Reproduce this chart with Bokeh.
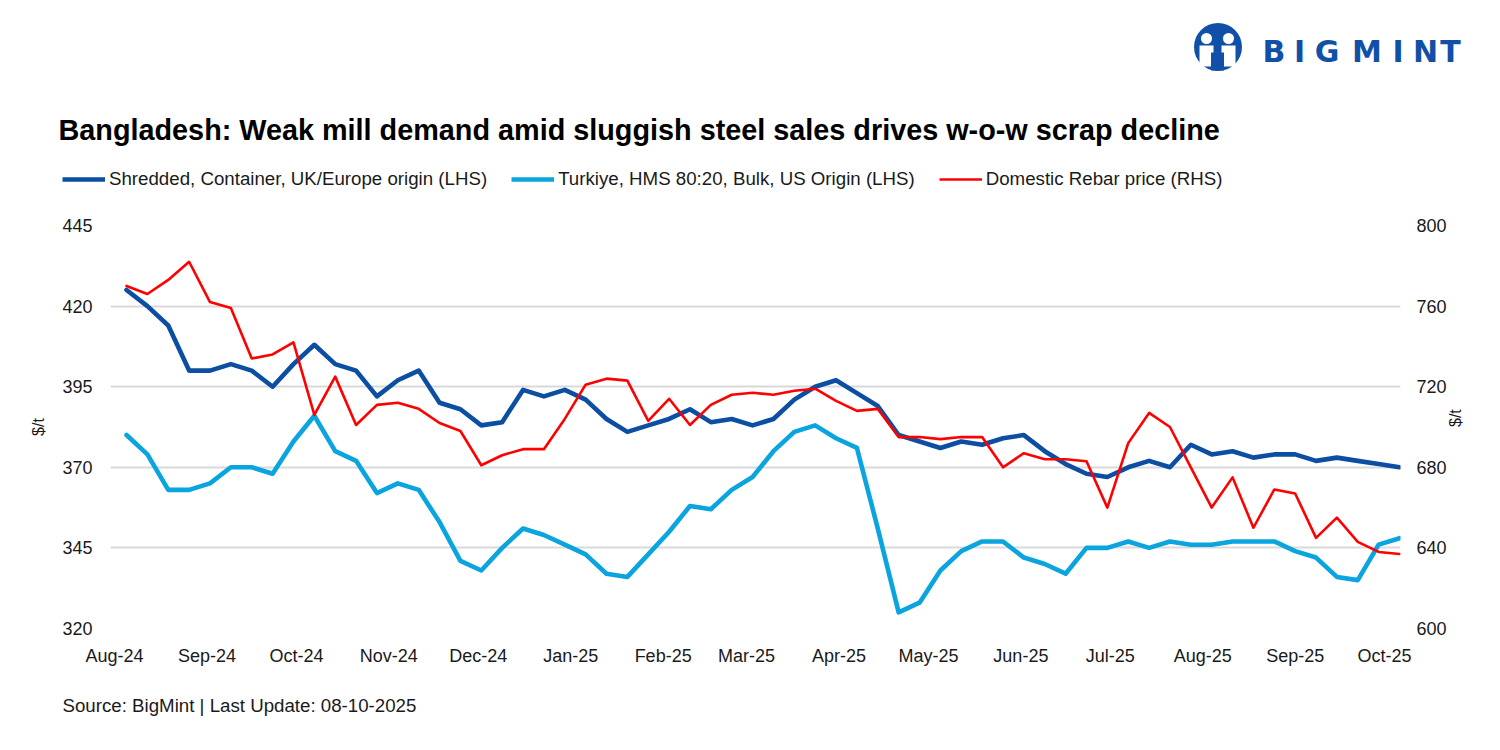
import math
import pandas as pd
from datetime import datetime
from bokeh.plotting import figure
from bokeh.models import (Range1d, LinearAxis, FixedTicker, MonthsTicker, DatetimeTickFormatter,
                          Legend, LegendItem, Label)
from bokeh.embed import file_html
from bokeh.resources import INLINE

# ---------------- data ----------------
first_week = "2024-08-05"
shredded = [425, 420, 414, 400, 400, 402, 400, 395, 402, 408, 402, 400, 392, 397, 400, 390,
            388, 383, 384, 394, 392, 394, 391, 385, 381, 383, 385, 388, 384, 385, 383, 385,
            391, 395, 397, 393, 389, 380, 378, 376, 378, 377, 379, 380, 375, 371, 368, 367,
            370, 372, 370, 377, 374, 375, 373, 374, 374, 372, 373, 372, 371, 370]
turkiye = [380, 374, 363, 363, 365, 370, 370, 368, 378, 386, 375, 372, 362, 365, 363, 353,
           341, 338, 345, 351, 349, 346, 343, 337, 336, 343, 350, 358, 357, 363, 367, 375,
           381, 383, 379, 376, 351, 325, 328, 338, 344, 347, 347, 342, 340, 337, 345, 345,
           347, 345, 347, 346, 346, 347, 347, 347, 344, 342, 336, 335, 346, 348]
rebar = [770, 766, 773, 782, 762, 759, 734, 736, 742, 706, 725, 701, 711, 712, 709, 702,
         698, 681, 686, 689, 689, 704, 721, 724, 723, 703, 714, 701, 711, 716, 717, 716,
         718, 719, 713, 708, 709, 695, 695, 694, 695, 695, 680, 687, 684, 684, 683, 660,
         692, 707, 700, 680, 660, 675, 650, 669, 667, 645, 655, 643, 638, 637]
left_ticks = [320, 345, 370, 395, 420, 445]
right_ticks = [600, 640, 680, 720, 760, 800]
series_names = ["Shredded, Container, UK/Europe origin (LHS)",
                "Turkiye, HMS 80:20, Bulk, US Origin (LHS)",
                "Domestic Rebar price (RHS)"]
title_text = "Bangladesh: Weak mill demand amid sluggish steel sales drives w-o-w scrap decline"
source_text = "Source: BigMint | Last Update: 08-10-2025"
unit_label = "$/t"
logo_letters = list("BIGMINT")

dates = pd.date_range(first_week, periods=len(shredded), freq="7D")

# ---------------- style ----------------
FONT = "Liberation Sans"
DARK = "#0B4EA2"
CYAN = "#0AA4DE"
RED = "#FF0000"
TXT = "#1a1a1a"
GRID = "#d9d9d9"
LOGO = "#1150A8"
W = 1492
LINE_STYLES = [dict(line_color=DARK, line_width=4.6), dict(line_color=CYAN, line_width=4.6),
               dict(line_color=RED, line_width=2.6)]


def blank(height):
    f = figure(width=W, height=height, x_range=Range1d(0, W), y_range=Range1d(height, 0),
               output_backend="svg", toolbar_location=None, x_axis_location=None,
               y_axis_location=None, min_border=0)
    f.grid.visible = False
    f.outline_line_color = None
    return f


# ---------------- header: logo, title, legend ----------------
HEAD_H = 200
head = blank(HEAD_H)
head.circle(x=[1217.5], y=[46.5], radius=24, fill_color=LOGO, line_color=None)
head.circle(x=[1206, 1228], y=[38, 38], radius=5.5, fill_color="white", line_color=None)
head.quad(left=[1199, 1221], right=[1213, 1235], top=[45, 45], bottom=[66, 66],
          fill_color="white", line_color=None)
head.quad(left=[1210.5], right=[1223.5], top=[52], bottom=[70], fill_color=LOGO, line_color=None)
letter_x = [1273.5, 1299, 1326.5, 1366.5, 1397.5, 1425, 1450]
for lx, ch in zip(letter_x, logo_letters):
    head.add_layout(Label(x=lx, y=51, text=ch, text_font="DejaVu Sans", text_font_size="30px",
                          text_font_style="bold", text_color=LOGO, text_baseline="alphabetic",
                          text_align="center"))
head.add_layout(Label(x=58, y=129, text=title_text, text_font=FONT, text_font_size="28.8px",
                      text_font_style="bold", text_color="#000000", text_baseline="alphabetic",
                      text_align="left"))
nan = float("nan")
swatches = [head.line(x=[nan], y=[nan], **st) for st in LINE_STYLES]
legend = Legend(items=[LegendItem(label=n, renderers=[r]) for n, r in zip(series_names, swatches)],
                orientation="horizontal", location=(62, HEAD_H - 190), padding=0, margin=0,
                spacing=24, glyph_width=43, glyph_height=20, label_standoff=4,
                border_line_color=None, background_fill_alpha=0,
                label_text_font=FONT, label_text_font_size="18.7px", label_text_color=TXT)
head.add_layout(legend)

# ---------------- main chart ----------------
TOP, FRAME_H, BOT = 225 - HEAD_H, 403, 57
p = figure(width=W, height=TOP + FRAME_H + BOT, x_axis_type="datetime",
           x_range=Range1d(datetime(2024, 7, 30, 15), datetime(2025, 10, 6, 8)),
           y_range=Range1d(left_ticks[0], left_ticks[-1]),
           output_backend="svg", toolbar_location=None,
           min_border_left=110, min_border_right=W - 1400, min_border_top=TOP, min_border_bottom=BOT)
p.extra_y_ranges = {"rhs": Range1d(right_ticks[0], right_ticks[-1])}
p.outline_line_color = None

for vals, st, rng in [(shredded, LINE_STYLES[0], "default"), (turkiye, LINE_STYLES[1], "default"),
                      (rebar, LINE_STYLES[2], "rhs")]:
    p.line(dates, vals, line_join="round", line_cap="round", y_range_name=rng, **st)

p.yaxis.ticker = FixedTicker(ticks=left_ticks)
p.yaxis.axis_label = unit_label
p.yaxis.major_label_standoff = 18
p.yaxis.axis_label_standoff = 12

rax = LinearAxis(y_range_name="rhs", ticker=FixedTicker(ticks=right_ticks), axis_label=unit_label)
p.add_layout(rax, "right")
rax.major_label_standoff = 16
rax.axis_label_standoff = 6
rax.axis_label_orientation = math.pi / 2

p.xaxis.ticker = MonthsTicker(months=list(range(12)))
p.xaxis.formatter = DatetimeTickFormatter(months="%b-%y", days="%b-%y", years="%b-%y")
p.xaxis.major_label_standoff = 17

for ax in [p.xaxis[0], p.yaxis[0], rax]:
    ax.axis_line_color = None
    ax.major_tick_line_color = None
    ax.minor_tick_line_color = None
    ax.major_tick_out = 0
    ax.major_tick_in = 0
    ax.major_label_text_font = FONT
    ax.major_label_text_font_size = "18px"
    ax.major_label_text_color = TXT
    ax.axis_label_text_font = FONT
    ax.axis_label_text_font_size = "16px"
    ax.axis_label_text_font_style = "normal"
    ax.axis_label_text_color = TXT

p.xgrid.grid_line_color = None
p.ygrid.ticker = FixedTicker(ticks=left_ticks)
p.ygrid.grid_line_color = GRID
p.ygrid.grid_line_width = 1.8

# ---------------- footer: source ----------------
FOOT_H = 742 - (HEAD_H + TOP + FRAME_H + BOT)
foot = blank(FOOT_H)
foot.add_layout(Label(x=62, y=705 - (HEAD_H + TOP + FRAME_H + BOT), text=source_text,
                      text_font=FONT, text_font_size="18.7px", text_color=TXT,
                      text_baseline="alphabetic", text_align="left"))

# separate roots stacked on the page (keeps each figure's own frame)
open("out.html", "w").write(file_html([head, p, foot], INLINE))
